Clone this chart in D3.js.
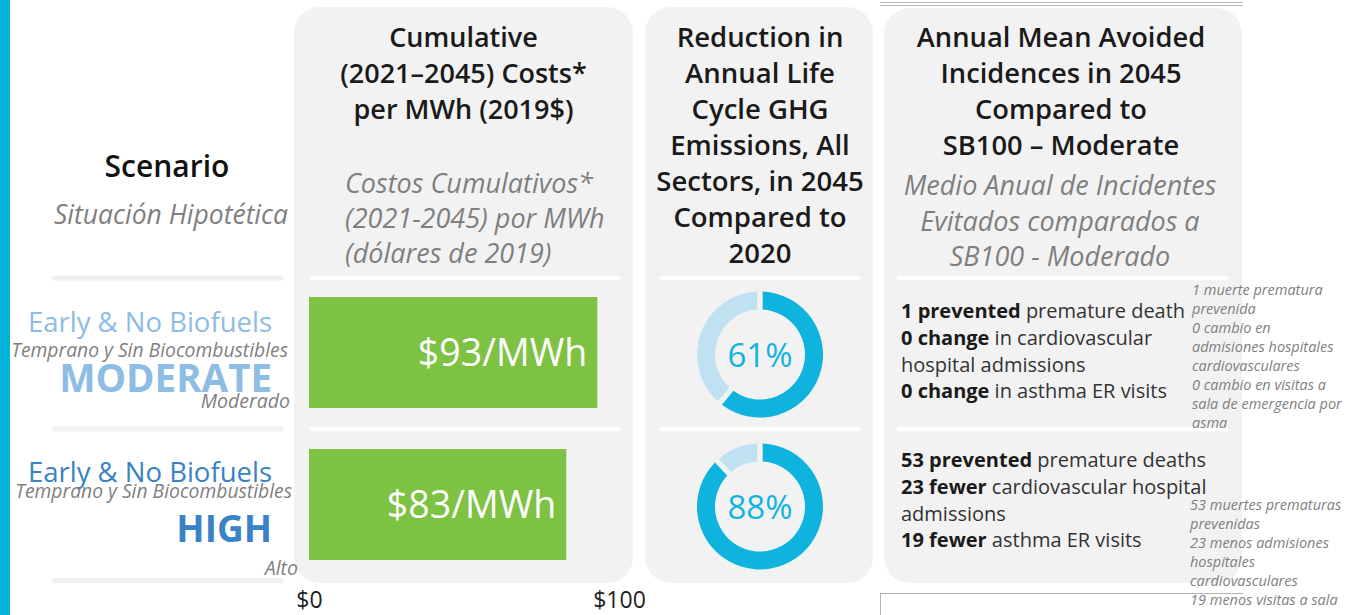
<!DOCTYPE html>
<html><head><meta charset="utf-8">
<script src="https://cdn.jsdelivr.net/npm/d3@7"></script>
<style>
html,body{margin:0;padding:0;background:#fff;}
svg{display:block;}
</style></head>
<body>
<svg id="chart" width="1345" height="615"></svg>
<script>
// ---------- DATA ----------
const levels = ["MODERATE", "HIGH"];
const levelsEs = ["Moderado", "Alto"];
const scenarioNames = ["Early & No Biofuels", "Early & No Biofuels"];
const scenarioNamesEs = ["Temprano y Sin Biocombustibles", "Temprano y Sin Biocombustibles"];
const costs = [93, 83];                 // $/MWh
const ghgReduction = [61, 88];          // %
const costTicks = [0, 100];
const incidencesModerate = [["1 prevented", " premature death"], ["0 change", " in cardiovascular"], ["", "hospital admissions"], ["0 change", " in asthma ER visits"]];
const incidencesHigh = [["53 prevented", " premature deaths"], ["23 fewer", " cardiovascular hospital"], ["", "admissions"], ["19 fewer", " asthma ER visits"]];
const incidencesEsModerate = ["1 muerte prematura", "prevenida", "0 cambio en", "admisiones hospitales", "cardiovasculares", "0 cambio en visitas a", "sala de emergencia por", "asma"];
const incidencesEsHigh = ["53 muertes prematuras", "prevenidas", "23 menos admisiones", "hospitales", "cardiovasculares", "19 menos visitas a sala"];
const header1 = ["Cumulative", "(2021\u20132045) Costs*", "per MWh (2019$)"];
const header1Es = ["Costos Cumulativos*", "(2021-2045) por MWh", "(dólares de 2019)"];
const header2 = ["Reduction in", "Annual Life", "Cycle GHG", "Emissions, All", "Sectors, in 2045", "Compared to", "2020"];
const header3 = ["Annual Mean Avoided", "Incidences in 2045", "Compared to", "SB100 \u2013 Moderate"];
const header3Es = ["Medio Anual de Incidentes", "Evitados comparados a", "SB100 - Moderado"];

// ---------- STYLE ----------
const HFONT = "'Open Sans', sans-serif";
const panelFill = "#f2f2f2";
const green = "#7dc242";
const cyanDark = "#0fb4de";
const cyanLight = "#bfe1f1";
const grayEs = "#7f7f7f";
const levelColors = ["#8dbce4", "#3a82c6"];

const svg = d3.select("#chart");

// left cyan stripe
svg.append("rect").attr("x", 0).attr("y", 0).attr("width", 10).attr("height", 615).attr("fill", "#00b4dc");

// row scale
const y = d3.scaleBand().domain(levels).range([276.5, 580.5]).paddingInner(0.27).paddingOuter(0.135);
const bounds = [278, 429, 580.5];
const x = d3.scaleLinear().domain([0, 100]).range([309, 619]);

// picture frame lines (right)
const frame = svg.append("g").attr("stroke", "#b3b3b3").attr("stroke-width", 1).attr("fill", "none");
frame.append("line").attr("x1", 880).attr("x2", 1243).attr("y1", 2.5).attr("y2", 2.5);
frame.append("line").attr("x1", 880).attr("x2", 1243).attr("y1", 5.5).attr("y2", 5.5);
frame.append("line").attr("x1", 880).attr("x2", 1243).attr("y1", 593.5).attr("y2", 593.5);
frame.append("line").attr("x1", 880.5).attr("x2", 880.5).attr("y1", 593.5).attr("y2", 615);

// left separators
svg.append("g").selectAll("line").data(bounds).join("line")
  .attr("x1", 54).attr("x2", 281).attr("y1", d => d).attr("y2", d => d)
  .attr("stroke", "#f0f0f0").attr("stroke-width", 5).attr("stroke-linecap", "round");

// panels
const panels = [
  {x: 294, y: 7, w: 339, h: 576},
  {x: 645, y: 7, w: 228, h: 576},
  {x: 884, y: 8, w: 358, h: 575}
];
svg.append("g").selectAll("rect").data(panels).join("rect")
  .attr("x", d => d.x).attr("y", d => d.y).attr("width", d => d.w).attr("height", d => d.h)
  .attr("rx", 26).attr("fill", panelFill);

// panel white separators
const sepRanges = [[312, 618], [662, 858], [899, 1226]];
sepRanges.forEach(r => {
  svg.append("g").selectAll("line").data(bounds.slice(0, 2)).join("line")
    .attr("x1", r[0]).attr("x2", r[1]).attr("y1", d => d).attr("y2", d => d)
    .attr("stroke", "#fff").attr("stroke-width", 4.5).attr("stroke-linecap", "round");
});

// headers
function lines(g, arr, x0, y0, dy, anchor, size, weight, style, color) {
  g.append("text").attr("text-anchor", anchor)
    .attr("font-family", HFONT).attr("font-size", size).attr("font-weight", weight)
    .attr("font-style", style).attr("fill", color)
    .selectAll("tspan").data(arr).join("tspan")
    .attr("x", x0).attr("y", (d, i) => y0 + i * dy).text(d => d);
}
lines(svg, header1, 463.5, 47, 36, "middle", 27, 600, "normal", "#1a1a1a");
lines(svg, header1Es, 345, 193, 35, "start", 27, 400, "italic", grayEs);
lines(svg, header2, 760, 47, 36, "middle", 27.5, 600, "normal", "#1a1a1a");
lines(svg, header3, 1061, 47, 36, "middle", 27.3, 600, "normal", "#1a1a1a");
lines(svg, header3Es, 1060, 195, 35.5, "middle", 27, 400, "italic", grayEs);

// Scenario column header
svg.append("text").attr("x", 167).attr("y", 177).attr("text-anchor", "middle")
  .attr("font-family", HFONT).attr("font-size", 30).attr("font-weight", 600).attr("fill", "#111")
  .text("Scenario");
svg.append("text").attr("x", 171).attr("y", 224).attr("text-anchor", "middle")
  .attr("font-family", HFONT).attr("font-size", 26.5).attr("font-style", "italic").attr("fill", grayEs)
  .text("Situación Hipotética");

// Scenario labels
const rows = svg.append("g").selectAll("g").data(levels).join("g")
  .attr("transform", d => `translate(0,${y(d)})`);
// offsets relative to band top (297 / 449)
const labelOffsets = [
  {name: 35, es: 60, lvl: 95, lvlEs: 111, esX: 288, lvlEsX: 290},
  {name: 33, es: 49, lvl: 93, lvlEs: 126, esX: 292, lvlEsX: 298}
];
rows.append("text").attr("x", 272).attr("y", (d, i) => labelOffsets[i].name).attr("text-anchor", "end")
  .attr("font-family", HFONT).attr("font-size", 27.5).attr("fill", (d, i) => levelColors[i])
  .text((d, i) => scenarioNames[i]);
rows.append("text").attr("x", (d, i) => labelOffsets[i].esX).attr("y", (d, i) => labelOffsets[i].es).attr("text-anchor", "end")
  .attr("font-family", HFONT).attr("font-size", 19.3).attr("font-style", "italic").attr("fill", grayEs)
  .text((d, i) => scenarioNamesEs[i]);
rows.append("text").attr("x", 272).attr("y", (d, i) => labelOffsets[i].lvl).attr("text-anchor", "end")
  .attr("font-family", HFONT).attr("font-size", (d, i) => i === 0 ? 38.5 : 37).attr("font-weight", 700).attr("fill", (d, i) => levelColors[i])
  .text(d => d);
rows.append("text").attr("x", (d, i) => labelOffsets[i].lvlEsX).attr("y", (d, i) => labelOffsets[i].lvlEs).attr("text-anchor", "end")
  .attr("font-family", HFONT).attr("font-size", 19.5).attr("font-style", "italic").attr("fill", grayEs)
  .text((d, i) => levelsEs[i]);

// bars
rows.append("rect").attr("x", x(0)).attr("y", 0)
  .attr("width", (d, i) => x(costs[i]) - x(0)).attr("height", y.bandwidth()).attr("fill", green);
rows.append("text").attr("x", (d, i) => x(costs[i]) - 10).attr("y", y.bandwidth() / 2 + 14)
  .attr("text-anchor", "end").attr("font-family", HFONT).attr("font-size", 37.5).attr("fill", "#fff")
  .text((d, i) => `$${costs[i]}/MWh`);

// axis
const axis = svg.append("g").attr("transform", "translate(0,590)")
  .call(d3.axisBottom(x).tickValues(costTicks).tickFormat(d => "$" + d).tickSize(0));
axis.select(".domain").remove();
axis.selectAll("text").attr("font-family", HFONT).attr("font-size", 23).attr("fill", "#222").attr("dy", "0.71em").attr("y", 2);

// donuts
const pie = d3.pie().sort(null).value(d => d);
const arc = d3.arc().innerRadius(45).outerRadius(63).padAngle(0.07);
rows.each(function(d, i) {
  const g = d3.select(this).append("g").attr("transform", `translate(760,${y.bandwidth() / 2 + 2})`);
  g.selectAll("path").data(pie([ghgReduction[i], 100 - ghgReduction[i]])).join("path")
    .attr("d", arc).attr("fill", (p, j) => j === 0 ? cyanDark : cyanLight);
  g.append("text").attr("text-anchor", "middle").attr("y", 12)
    .attr("font-family", HFONT).attr("font-size", 33).attr("fill", cyanDark)
    .text(ghgReduction[i] + "%");
});

// incidences text
const incData = [incidencesModerate, incidencesHigh];
const incStart = [318, 467];
incData.forEach((arr, k) => {
  const t = svg.append("text").attr("font-family", HFONT).attr("font-size", 20).attr("fill", "#333");
  arr.forEach((ln, i) => {
    const ts = t.append("tspan").attr("x", 901).attr("y", incStart[k] + i * 26.8);
    if (ln[0]) ts.append("tspan").attr("font-weight", 700).attr("fill", "#1a1a1a").text(ln[0]);
    ts.append("tspan").text(ln[1]);
  });
});

// spanish annotations
lines(svg, incidencesEsModerate, 1192, 295, 19, "start", 14.5, 400, "italic", grayEs);
lines(svg, incidencesEsHigh, 1190, 510, 19, "start", 14.5, 400, "italic", grayEs);
</script>
</body></html>
